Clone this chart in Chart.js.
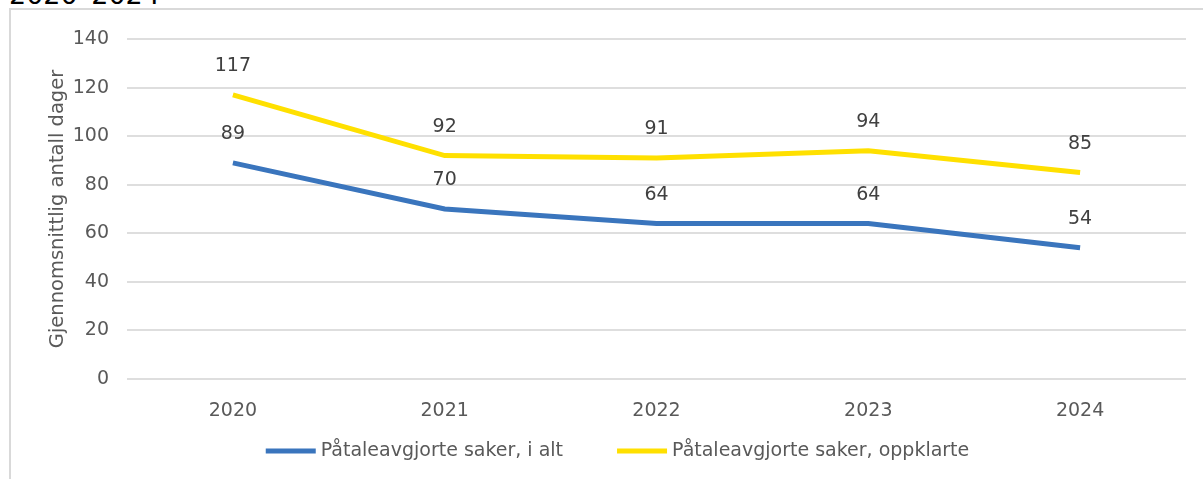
<!DOCTYPE html>
<html lang="no">
<head>
  <meta charset="UTF-8">
  <title>Påtaleavgjorte saker 2020–2024</title>
  <script src="https://cdn.jsdelivr.net/npm/chart.js"></script>
  <style>
    body {
      margin: 0;
      background: #fff;
      font-family: 'DejaVu Sans', sans-serif;
    }
    #wrap {
      position: relative;
      width: 1203px;
      height: 479px;
      overflow: hidden;
    }
    #frame {
      position: absolute;
      left: 9px;
      top: 8px;
      width: 1300px;
      height: 600px;
      border-left: 2px solid #d9d9d9;
      border-top: 2px solid #d9d9d9;
      pointer-events: none;
    }
    #heading {
      position: absolute;
      left: 9px;
      top: -21px;
      font-size: 27px;
      color: #000;
      white-space: nowrap;
    }
    canvas {
      position: absolute;
      left: 0;
      top: 0;
    }
  </style>
</head>
<body>
  <div id="wrap">
    <div id="heading">2020–2024</div>
    <canvas id="chart" width="1203" height="479"></canvas>
    <div id="frame"></div>
  </div>

  <script>
    var years = ['2020', '2021', '2022', '2023', '2024'];
    var iAlt = [89, 70, 64, 64, 54];
    var oppklarte = [117, 92, 91, 94, 85];
    var yTicks = [0, 20, 40, 60, 80, 100, 120, 140];

    var textColor = '#595959';
    var fontSize = 19;

    // tall over punktene
    var valueLabels = {
      id: 'valueLabels',
      afterDatasetsDraw: function (chart) {
        var ctx = chart.ctx;
        ctx.save();
        ctx.font = fontSize + 'px "DejaVu Sans"';
        ctx.fillStyle = '#404040';
        ctx.textAlign = 'center';
        ctx.textBaseline = 'middle';
        chart.data.datasets.forEach(function (ds, i) {
          var meta = chart.getDatasetMeta(i);
          meta.data.forEach(function (pt, j) {
            ctx.fillText(ds.data[j], pt.x, pt.y - 29);
          });
        });
        ctx.restore();
      }
    };

    // egen forklaring under diagrammet (bred strek + tekst)
    var bottomLegend = {
      id: 'bottomLegend',
      afterDraw: function (chart) {
        var ctx = chart.ctx;
        var boxW = 50, boxH = 5, textGap = 5, itemGap = 54;
        ctx.save();
        ctx.font = fontSize + 'px "DejaVu Sans"';
        ctx.textBaseline = 'middle';
        ctx.textAlign = 'left';
        var items = chart.data.datasets.map(function (ds) {
          return { text: ds.label, color: ds.borderColor, w: ctx.measureText(ds.label).width };
        });
        var total = 0;
        items.forEach(function (it, i) {
          total += boxW + textGap + it.w + (i > 0 ? itemGap : 0);
        });
        var x = chart.width / 2 + 16 - total / 2;
        var y = 451;
        items.forEach(function (it) {
          ctx.fillStyle = it.color;
          ctx.fillRect(x, y - boxH / 2, boxW, boxH);
          ctx.fillStyle = textColor;
          ctx.fillText(it.text, x + boxW + textGap, y);
          x += boxW + textGap + it.w + itemGap;
        });
        ctx.restore();
      }
    };

    var ctx = document.getElementById('chart').getContext('2d');
    new Chart(ctx, {
      type: 'line',
      data: {
        labels: years,
        datasets: [{
          label: 'Påtaleavgjorte saker, i alt',
          data: iAlt,
          borderColor: '#3a75bd',
          backgroundColor: '#3a75bd',
          borderWidth: 5,
          pointRadius: 0,
          tension: 0
        }, {
          label: 'Påtaleavgjorte saker, oppklarte',
          data: oppklarte,
          borderColor: '#ffe000',
          backgroundColor: '#ffe000',
          borderWidth: 5,
          pointRadius: 0,
          tension: 0
        }]
      },
      options: {
        responsive: false,
        animation: false,
        layout: {
          padding: { left: 40, right: 17, top: 39, bottom: 50 }
        },
        plugins: {
          tooltip: { enabled: false },
          legend: { display: false }
        },
        scales: {
          x: {
            offset: true,
            grid: { display: false },
            border: { display: false },
            ticks: {
              color: textColor,
              font: { family: 'DejaVu Sans', size: fontSize },
              padding: 13
            },
            afterFit: function (scale) { scale.height = 50; }
          },
          y: {
            min: 0,
            max: 140,
            afterBuildTicks: function (scale) {
              scale.ticks = yTicks.map(function (v) { return { value: v }; });
            },
            grid: { color: '#dedede', lineWidth: 2, drawTicks: false },
            border: { display: false },
            ticks: {
              color: textColor,
              font: { family: 'DejaVu Sans', size: fontSize },
              padding: 18
            },
            title: {
              display: true,
              text: 'Gjennomsnittlig antall dager',
              color: textColor,
              font: { family: 'DejaVu Sans', size: 19.5 },
              padding: { top: 6, bottom: 0 }
            },
            afterFit: function (scale) { scale.width = 87; }
          }
        }
      },
      plugins: [valueLabels, bottomLegend]
    });
  </script>
</body>
</html>
